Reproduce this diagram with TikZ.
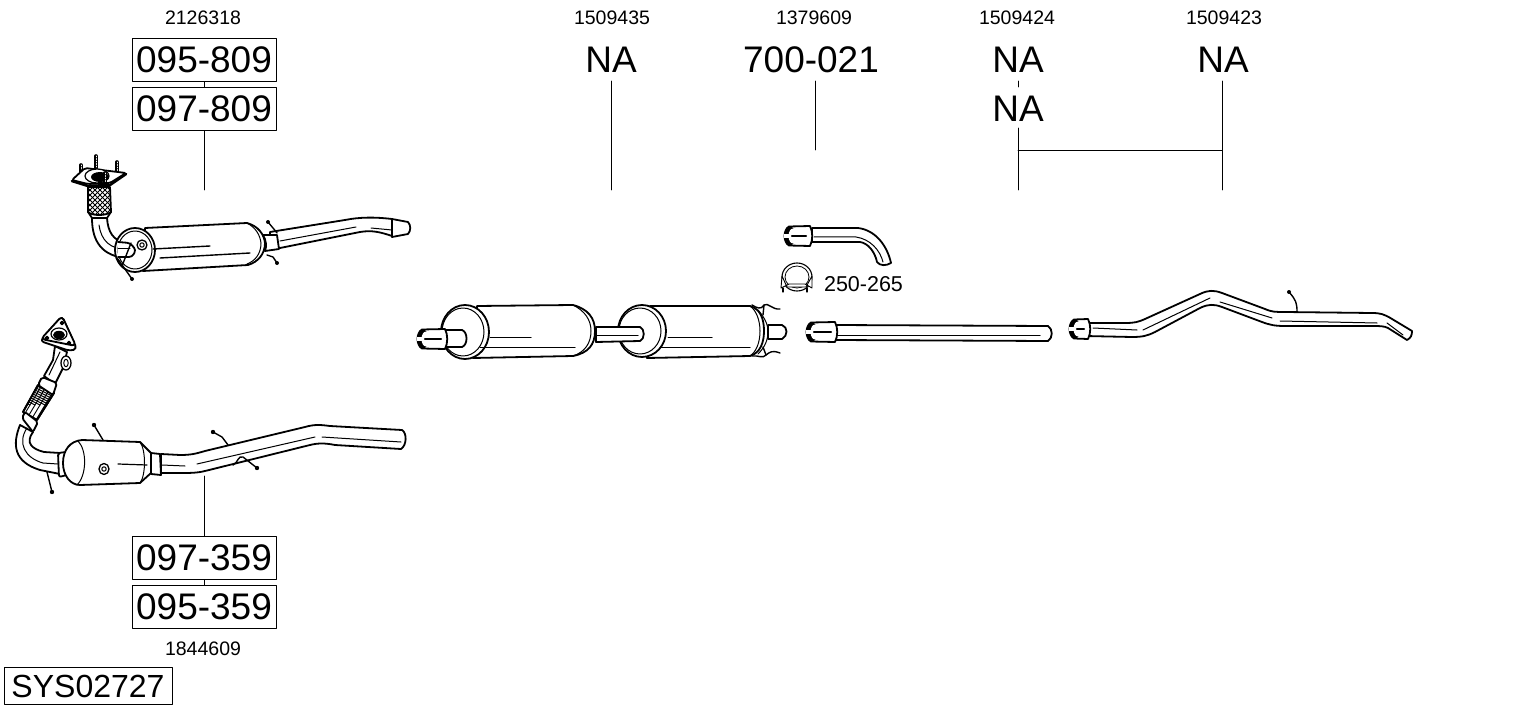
\documentclass[tikz,border=0pt]{standalone}
\usepackage{fontspec}
\setmainfont{Liberation Sans}
\tikzset{
  partbox/.style={draw, line width=1pt, minimum width=144, minimum height=43, inner sep=0pt, font=\fontsize{37}{40}\selectfont},
  partna/.style={inner sep=0pt, minimum height=43, font=\fontsize{37}{40}\selectfont},
  idtext/.style={inner sep=0pt, font=\fontsize{19.5}{22}\selectfont},
  leader/.style={line width=0.9pt},
  outline/.style={draw, line width=1.8pt, fill=white},
  inner/.style={line width=1pt},
  wire/.style={line width=1.4pt},
  wiretip/.style={fill=black},
  mesh/.style={line width=0.9pt}
}
\begin{document}
\begin{tikzpicture}[x=1pt, y=-1pt, line join=round, line cap=round]
\useasboundingbox (0,0) rectangle (1530,711);
\fill[white] (0,0) rectangle (1530,711);

% part numbers
\node[idtext] (id2126) at (203,18) {2126318};
\node[partbox] (b095809) at (204,60) {095-809};
\node[partbox] (b097809) at (204,109) {097-809};
\node[partbox] (b097359) at (204,558) {097-359};
\node[partbox] (b095359) at (204,607) {095-359};
\node[idtext] (id1844) at (203,649) {1844609};
\node[idtext] (id1509435) at (612,18) {1509435};
\node[partna] (naA) at (611,60) {NA};
\node[idtext] (id1379) at (814,18) {1379609};
\node[partna] (b700) at (811,60) {700-021};
\node[idtext] (id1509424) at (1017,18) {1509424};
\node[partna] (naB) at (1018,60) {NA};
\node[partna] (naC) at (1018,109) {NA};
\node[idtext] (id1509423) at (1224,18) {1509423};
\node[partna] (naD) at (1223,60) {NA};
\node[inner sep=0pt, font=\fontsize{21.5}{24}\selectfont] (clamp) at (863.5,284) {250-265};
\node[draw, line width=1pt, minimum width=168, minimum height=37, inner sep=0pt, font=\fontsize{32}{35}\selectfont] (sys) at (88,686) {SYS02727};

% leaders
\coordinate (c1) at (204,190);
\coordinate (c2) at (204,476);
\coordinate (c3) at (611,190);
\coordinate (c4) at (815,150);
\coordinate (c5) at (1018,190);
\coordinate (c6) at (1222,190);
\coordinate (c7) at (1018,150);
\coordinate (c8) at (1222,150);
\draw[leader] (b095809) -- (b097809);
\draw[leader] (b097809) -- (c1);
\draw[leader] (b097359) -- (c2);
\draw[leader] (b097359) -- (b095359);
\draw[leader] (611,81) -- (c3);
\draw[leader] (815,81) -- (c4);
\draw[leader] (1018,81) -- (1018,87);
\draw[leader] (1018,128) -- (c5);
\draw[leader] (1222,81) -- (c6);
\draw[leader] (c7) -- (c8);

% upper catalyst
\foreach \bx/\by/\bh in {81/165/12, 96/156/12, 117/162/11} {
  \draw[line width=3.6pt] (\bx,\by) -- ++(0,\bh);
  \draw[white, line width=0.9pt, dash pattern=on 1pt off 1.5pt] (\bx,\by) -- ++(0,\bh);
}
\path[outline] (92,218) .. controls (92,235) and (97,255) .. (125,258) -- (134,256) -- (134,243) -- (125,243) .. controls (113,240) and (108,232) .. (107,218) -- cycle;
\draw[inner] (99,225) .. controls (101,240) and (110,250) .. (128,249);

\path[outline] (88,187) -- (110,187) -- (111,212) -- (107,218) -- (92,218) -- (88,212) -- cycle;
\begin{scope}
\clip (88,187) -- (110,187) -- (111,212) -- (106,215) -- (92,215) -- (88,212) -- cycle;
\foreach \d in {40,45,...,160} {
  \draw[mesh] (\d,180) -- ++(40,40);
  \draw[mesh] (\d,180) -- ++(-40,40);
}
\end{scope}
\draw[line width=1.8pt] (88,212) .. controls (92,216) and (106,216) .. (111,212);

\draw[outline, rounded corners=2pt] (72,180) -- (85,168) -- (126,173) -- (110,183) -- (88,184) -- cycle;
\draw[line width=2.6pt] (72,181) -- (88,186) -- (110,185) -- (126,174);
\draw[line width=1.2pt, fill=white] (97,176) ellipse [x radius=12, y radius=7];
\fill (100,177) ellipse [x radius=9, y radius=5];
\draw[line width=3.6pt] (105,173) -- (105,183);
\draw[white, line width=0.9pt, dash pattern=on 1pt off 1.5pt] (105,173) -- (105,183);

\path[outline] (145,228) -- (247,223) .. controls (258,226) and (264,234) .. (265,243) .. controls (265,254) and (258,262) .. (248,265) -- (143,271) -- cycle;
\draw[outline] (135,250) ellipse [x radius=20, y radius=22];
\draw[inner] (135,250) ellipse [x radius=17, y radius=19];
\path[draw, line width=1.8pt, fill=white, rounded corners=3pt] (118,242) -- (130,243) -- (136,250) -- (132,257) -- (118,257);
\draw[inner] (118,249) -- (130,249);
\draw[line width=1.3pt, fill=white] (142,245) circle (5);
\draw[inner] (142,245) circle (2.2);
\draw[line width=1.4pt] (153,249) -- (210,246);
\draw[line width=1.4pt] (160,258) -- (250,253);
\draw[inner] (247,223) .. controls (256,228) and (260,235) .. (261,243) .. controls (261,254) and (255,261) .. (247,264);

\path[outline] (270,232) -- (345,220) .. controls (360,217) and (375,217) .. (392,219) -- (392,236) .. controls (380,232) and (372,230) .. (360,232) -- (270,250) -- cycle;
\path[outline] (392,219) -- (408,222) .. controls (411,225) and (411,231) .. (408,234) -- (392,237) -- cycle;
\draw[inner] (280,241) -- (356,227);
\draw[inner] (371,228) -- (392,230);
\path[outline] (263,235) -- (277,235) -- (279,249) -- (265,251) .. controls (267,246) and (266,240) .. (263,235) -- cycle;
\draw[wire] (268,222) -- (273,228) -- (277,233);
\draw[wire] (267,255) -- (273,257) -- (277,263);
\fill[wiretip] (268,222) circle (2);
\fill[wiretip] (277,263) circle (2);
\draw[wire] (132,279) -- (120,262) -- (117,258);
\draw[wire] (131,243) -- (122,266);
\fill[wiretip] (132,279) circle (2);

% lower catalyst
\path[outline] (20,425) .. controls (12,445) and (14,462) .. (40,470) -- (60,474) -- (60,453) -- (44,452) .. controls (32,449) and (25,443) .. (33,432) -- cycle;
\draw[inner] (27,428) .. controls (17,443) and (25,458) .. (43,463) -- (58,464);

\path[outline] (55,346) -- (53,360) -- (44,376) -- (55,384) -- (63,368) -- (67,352) -- cycle;
\draw[inner] (60,352) -- (49,375);
\draw[line width=1.3pt, fill=white] (66,363) ellipse [x radius=5, y radius=7];
\draw[inner] (66,363) ellipse [x radius=2.2, y radius=3.8];
\draw[outline, rounded corners=4pt] (62,316) -- (77,349) -- (70,351) -- (40,341) -- cycle;
\draw[outline, rounded corners=4pt] (62,316) -- (76,346) -- (41,339) -- cycle;
\draw[line width=1.2pt] (59,334) ellipse [x radius=8, y radius=6];
\fill (59,335) ellipse [x radius=6, y radius=4.2];
\foreach \hx/\hy in {62/323, 47/338, 69/343} {
  \draw[line width=1.6pt] (\hx,\hy) circle (1.6);
}
\path[outline] (38,385) -- (54,393) -- (37,420) -- (23,412) -- cycle;
\begin{scope}
\clip (38,385) -- (54,393) -- (37,420) -- (23,412) -- cycle;
\foreach \d in {-20,-15,...,110} {
  \draw[mesh] (\d,380) -- ++(-30,50);
  \draw[mesh] (\d,380) -- ++(50,25);
}
\end{scope}
\draw[line width=1.8pt] (38,385) -- (54,393) -- (37,420) -- (23,412) -- cycle;
\path[outline, rounded corners=2pt] (38,385) -- (42,377) -- (57,383) -- (53,395) -- cycle;
\path[outline, rounded corners=2pt] (22,418) -- (25,412) -- (38,422) -- (33,432) -- cycle;

\path[outline, rounded corners=2pt] (58,453) -- (66,452) -- (67,475) -- (59,477) -- cycle;
\path[outline] (82,440) -- (140,442) -- (151,453) -- (151,473) -- (140,483) -- (80,485) .. controls (70,485) and (63,475) .. (63,463) .. controls (63,450) and (70,441) .. (82,440) -- cycle;
\draw[inner] (78,441) .. controls (87,450) and (87,475) .. (77,485);
\draw[line width=1.3pt, fill=white] (104,469) ellipse [x radius=5, y radius=5.5];
\draw[inner] (104,469) circle (2.2);
\draw[line width=1.2pt] (118,464) -- (147,465);
\draw[inner] (140,442) .. controls (146,450) and (146,475) .. (140,483);

\path[outline] (151,453) -- (160,454) -- (161,475) -- (151,474) -- cycle;
\path[outline] (161,454) -- (180,455) .. controls (190,455) and (195,454) .. (205,451) -- (305,427) .. controls (315,424) and (322,425) .. (330,426) -- (402,430) .. controls (407,433) and (407,445) .. (401,449) -- (335,445) .. controls (325,443) and (318,443) .. (310,445) -- (205,471) .. controls (197,473) and (190,473) .. (180,473) -- (161,473) -- cycle;
\draw[inner] (162,465) -- (185,466);
\draw[inner] (197,464) -- (315,437);
\draw[inner] (322,437) -- (401,442);
\draw[wire] (94,425) -- (103,440);
\draw[wire] (213,432) -- (222,437) -- (228,445);
\draw[wire] (233,465) .. controls (238,463) and (238,455) .. (243,457) -- (257,468);
\draw[wire] (52,492) -- (47,472);
\foreach \tx/\ty in {94/425, 213/432, 257/468, 52/492} {
  \fill[wiretip] (\tx,\ty) circle (2.2);
}

% rear muffler
\path[outline] (477,306) -- (573,305) .. controls (588,309) and (595,318) .. (595,331) .. controls (595,345) and (588,353) .. (573,356) -- (473,358) -- cycle;
\draw[inner] (573,305) .. controls (585,311) and (591,320) .. (591,331) .. controls (591,343) and (585,352) .. (573,356);
\draw[outline] (465,332) ellipse [x radius=24, y radius=27];
\draw[line width=1pt] (463,332) ellipse [x radius=21, y radius=24];
\draw[line width=1pt] (490,337) -- (531,337);
\draw[line width=1pt] (480,347) -- (575,347);
\path[outline] (440,330) -- (462,330) .. controls (468,332) and (468,345) .. (462,347) -- (440,347) -- cycle;

\path[outline] (768,325) -- (782,325) .. controls (788,327) and (788,336) .. (782,339) -- (768,339) -- cycle;
\path[outline] (650,306) -- (750,306) .. controls (760,309) and (764,318) .. (764,331) .. controls (764,343) and (760,353) .. (750,356) -- (647,358) -- cycle;
\draw[inner] (750,306) .. controls (756,310) and (760,320) .. (760,331) .. controls (760,343) and (756,352) .. (750,356);
\draw[inner] (758,310) .. controls (765,318) and (768,325) .. (768,331) .. controls (768,340) and (765,347) .. (758,354);
\draw[outline] (642,331) ellipse [x radius=24, y radius=26];
\draw[line width=1pt] (640,331) ellipse [x radius=21, y radius=23];
\path[outline] (596,327) -- (640,327) .. controls (645,329) and (645,339) .. (640,341) -- (596,342) -- cycle;
\draw[inner] (597,335) -- (638,335);
\draw[line width=1pt] (668,337) -- (712,337);
\draw[line width=1pt] (660,347) -- (750,347);
\draw[wire] (752,305) .. controls (757,308) and (761,310) .. (764,305) .. controls (768,302) and (772,310) .. (780,309);
\draw[wire] (780,353) .. controls (772,350) and (770,352) .. (766,355) .. controls (763,359) and (758,355) .. (752,356);
\draw[wire] (764,305) -- (763,315);
\draw[wire] (763,347) -- (766,355);

% tail piece
\path[outline] (812,228) -- (858,228) .. controls (875,230) and (887,245) .. (891,263) .. controls (886,266) and (880,266) .. (877,262) .. controls (875,252) and (868,243) .. (860,242) -- (812,242) -- cycle;
\draw[inner] (814,237) -- (856,237) .. controls (870,239) and (880,250) .. (883,262);

% clamp
\draw[line width=1.1pt] (797,277) ellipse [x radius=15, y radius=14];
\draw[line width=0.8pt] (797,277) ellipse [x radius=12, y radius=11];
\path[draw, line width=0.9pt, fill=white] (782,276) -- (781,288) -- (789,284) -- (805,284) -- (812,288) -- (812,276) -- (806,287) -- (787,287) -- cycle;
\draw[line width=1.3pt] (783,288) -- (783,292);
\draw[line width=1.3pt] (807,288) -- (807,292);

% middle and front pipes
\path[outline] (835,325) -- (1048,326) .. controls (1053,329) and (1053,338) .. (1048,341) -- (835,340) -- cycle;
\draw[inner] (838,335) -- (1040,335);
\path[outline] (1085,323) -- (1125,323) .. controls (1135,323) and (1138,322) .. (1145,319) -- (1200,294) .. controls (1208,290) and (1214,290) .. (1222,293) -- (1265,309) .. controls (1272,312) and (1275,312) .. (1285,312) -- (1372,313) .. controls (1380,313) and (1384,314) .. (1392,319) -- (1412,331) .. controls (1412,335) and (1411,338) .. (1407,340) -- (1388,328) .. controls (1384,326) and (1380,326) .. (1372,326) -- (1285,326) .. controls (1275,326) and (1270,325) .. (1262,322) -- (1222,307) .. controls (1214,304) and (1208,304) .. (1200,308) -- (1155,332) .. controls (1147,336) and (1142,337) .. (1132,337) -- (1085,336) -- cycle;
\draw[inner] (1093,328) -- (1137,330);
\draw[inner] (1143,330) -- (1210,298);
\draw[inner] (1220,302) -- (1272,318);
\draw[inner] (1280,321) -- (1377,323);
\draw[inner] (1387,323) -- (1403,335);
\draw[wire] (1297,312) .. controls (1297,303) and (1296,300) .. (1289,292);
\fill[wiretip] (1289,292) circle (2);

% slotted ends
\foreach \sx/\sy/\sw in {418/339/29, 785/236/27, 807/332/30, 1070/329/20} {
  \path[outline] (\sx+4,\sy-9.5) -- (\sx+\sw-2,\sy-10) .. controls (\sx+\sw+1,\sy-4) and (\sx+\sw+1,\sy+4) .. (\sx+\sw-2,\sy+10) -- (\sx+4,\sy+9.5) .. controls (\sx-2,\sy+6) and (\sx-2,\sy-6) .. (\sx+4,\sy-9.5) -- cycle;
  \fill (\sx+5,\sy) ellipse [x radius=5.5, y radius=9.5];
  \fill[white] (\sx+8,\sy) ellipse [x radius=4.5, y radius=7.5];
  \fill[white] (\sx-1,\sy-1.8) rectangle (\sx+8,\sy+1.8);
  \draw[line width=2.4pt] (\sx+7,\sy) -- (\sx+\sw-6,\sy);
}
\end{tikzpicture}
\end{document}
